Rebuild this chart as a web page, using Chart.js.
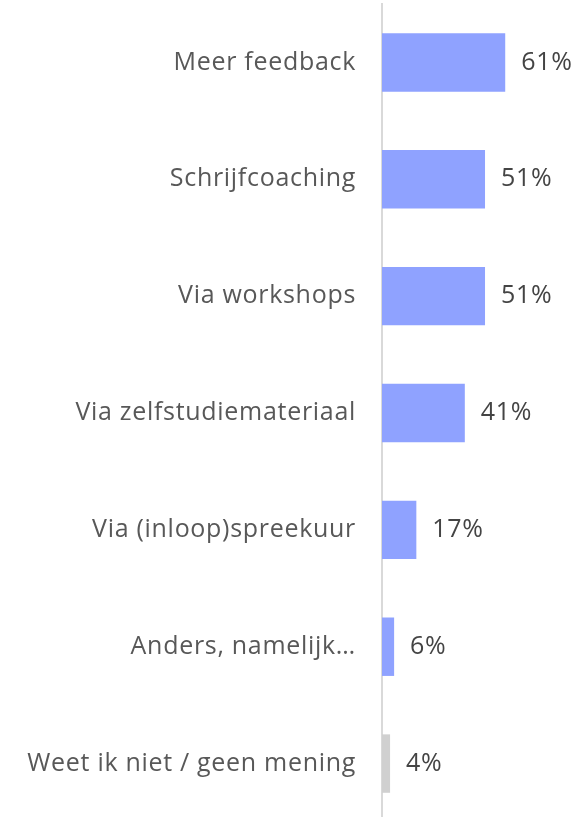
<!DOCTYPE html>
<html>
<head>
<meta charset="utf-8">
<script src="https://cdn.jsdelivr.net/npm/chart.js@4"></script>
<style>
  html, body { margin: 0; padding: 0; background: #fff; overflow: hidden; }
  #wrap { width: 587px; height: 822px; position: relative; }
</style>
</head>
<body>
<div id="wrap"><canvas id="chart"></canvas></div>
<script>
const categories = [
  "Meer feedback",
  "Schrijfcoaching",
  "Via workshops",
  "Via zelfstudiemateriaal",
  "Via (inloop)spreekuur",
  "Anders, namelijk…",
  "Weet ik niet / geen mening"
];
const values = [61, 51, 51, 41, 17, 6, 4];
const barColors = ["#8fa2ff", "#8fa2ff", "#8fa2ff", "#8fa2ff", "#8fa2ff", "#8fa2ff", "#d0d0d0"];

const FONT = "'Open Sans', sans-serif";

// wider tracking, closer to the original typeface
const spacing = {
  id: "spacing",
  beforeDraw(chart) { chart.ctx.letterSpacing = "0.7px"; }
};

// percentage labels to the right of each bar
const valueLabels = {
  id: "valueLabels",
  afterDatasetsDraw(chart) {
    const ctx = chart.ctx;
    const meta = chart.getDatasetMeta(0);
    ctx.save();
    ctx.letterSpacing = "0.7px";
    ctx.font = "25px " + FONT;
    ctx.fillStyle = "#444444";
    ctx.textAlign = "left";
    ctx.textBaseline = "middle";
    meta.data.forEach((bar, i) => {
      ctx.fillText(values[i] + "%", bar.x + 16, bar.y);
    });
    ctx.restore();
  }
};

new Chart(document.getElementById("chart"), {
  type: "bar",
  data: {
    labels: categories,
    datasets: [{
      data: values,
      backgroundColor: barColors,
      borderWidth: 0,
      barPercentage: 0.5,
      categoryPercentage: 1
    }]
  },
  options: {
    indexAxis: "y",
    responsive: true,
    maintainAspectRatio: false,
    animation: false,
    layout: { padding: { top: 4, right: 3, left: 0, bottom: 0 } },
    plugins: {
      legend: { display: false },
      tooltip: { enabled: false }
    },
    scales: {
      x: {
        display: false,
        min: 0,
        max: 100
      },
      y: {
        grid: { display: false, drawTicks: false },
        border: { display: true, color: "#d9d9d9", width: 2 },
        ticks: {
          color: "#585858",
          padding: 26,
          font: { family: FONT, size: 25 }
        },
        afterFit(scale) {
          scale.width = 382;
          scale.paddingTop = 0;
          scale.paddingBottom = 0;
        }
      }
    }
  },
  plugins: [spacing, valueLabels]
});
</script>
</body>
</html>
